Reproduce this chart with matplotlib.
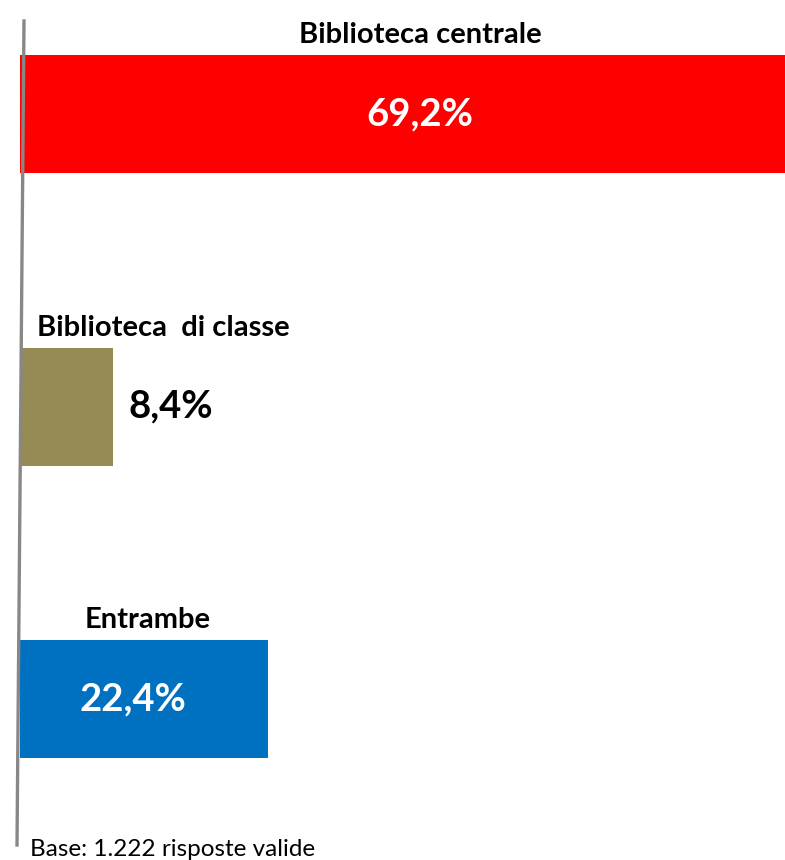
import matplotlib
matplotlib.use("Agg")
import matplotlib.pyplot as plt
from matplotlib.lines import Line2D

categories = ["Biblioteca centrale", "Biblioteca  di classe", "Entrambe"]
values = [69.2, 8.4, 22.4]
value_labels = ["69,2%", "8,4%", "22,4%"]
colors = ["#FF0000", "#968A55", "#0070C0"]
base_note = "Base: 1.222 risposte valide"

W, H = 785, 860
fig = plt.figure(figsize=(W / 100, H / 100), dpi=100)
x0 = 20
ax = fig.add_axes([x0 / W, 0, (W - x0) / W, 1])
sp = 292.7
c0 = 114
ax.set_xlim(0, values[0])
ax.set_ylim((H - c0) / sp, -c0 / sp)
ax.axis("off")

ypos = list(range(len(values)))
ax.barh(ypos, values, height=118 / sp, color=colors, left=0)

font = "Lato"
# category labels (x in pixel-based data coordinates)
cat_x = [420, 163, 148]
for i, (c, cx) in enumerate(zip(categories, cat_x)):
    ax.text((cx - x0) / (W - x0) * values[0], i - 0.27, c, ha="center", va="center",
            fontsize=21, fontweight="bold", family=font, color="black")

# value labels
ax.text((420 - x0) / (W - x0) * values[0], 0, value_labels[0], ha="center", va="center",
        fontsize=27.5, fontweight="bold", family=font, color="white")
ax.text(values[1] + (16 / (W - x0)) * values[0], 1, value_labels[1], ha="left", va="center",
        fontsize=27.5, fontweight="bold", family=font, color="black")
ax.text((133 - x0) / (W - x0) * values[0], 2, value_labels[2], ha="center", va="center",
        fontsize=27.5, fontweight="bold", family=font, color="white")

# slanted vertical axis line
fig.add_artist(Line2D([24 / W, 17 / W], [1 - 21 / H, 1 - 845 / H], color="#878787",
                      linewidth=2.4, transform=fig.transFigure))

fig.text(30 / W, 1 - 849 / H, base_note, ha="left", va="center", fontsize=17.5,
         family=font, color="black")

fig.savefig("out.png", dpi=100)
